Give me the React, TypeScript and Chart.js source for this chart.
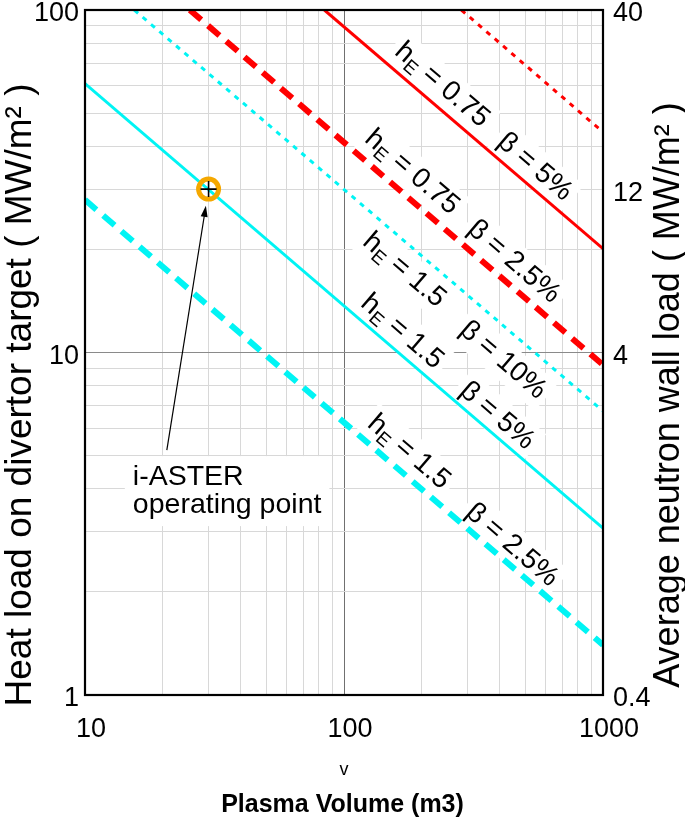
import React, { useEffect, useRef } from 'react';
import { Chart, registerables } from 'chart.js';

Chart.register(...registerables);

// ---- tick labels ----
const xTickLabels = [10, 100, 1000];
const yTickLabels = [1, 10, 100];
const rightTickLabels = [0.4, 4, 12, 40];

// ---- series (plasma volume m3 -> heat load MW/m2) ----
const redSolidX = [84, 1000];
const redSolidY = [100, 20.1];
const redDashedX = [25.4, 1000];
const redDashedY = [100, 9.2];
const redDottedX = [284, 1000];
const redDottedY = [100, 44];
const cyanDottedX = [15.5, 1000];
const cyanDottedY = [100, 6.75];
const cyanSolidX = [10, 1000];
const cyanSolidY = [61, 3.07];
const cyanDashedX = [10, 1000];
const cyanDashedY = [27.9, 1.4];

const opPointX = [30];
const opPointY = [30];

// ---- line labels ----
const lineLabelTexts = [
  'h_E = 0.75', 'β = 5%',
  'h_E = 0.75', 'β = 2.5%',
  'h_E = 1.5', 'β = 10%',
  'h_E = 1.5', 'β = 5%',
  'h_E = 1.5', 'β = 2.5%',
];
const lineLabelX = [239, 546, 183, 453, 170.6, 411, 167.5, 390, 178, 445];
const lineLabelY = [60.4, 34.8, 33.6, 18.4, 17.4, 9.5, 11.5, 6.53, 5.12, 2.74];
const lineLabelSeries = [0, 0, 1, 1, 2, 2, 3, 3, 4, 4];

// ---- operating point note ----
const noteLines = ['i-ASTER', 'operating point'];
const noteX = [15.3];
const noteY = [4.1];
const arrowTailX = [20.7];
const arrowTailY = [5.19];

const FONT = "'Liberation Sans', Arial, sans-serif";
const RED = '#ff0000';
const CYAN = '#00f4f4';

const seriesForLabels = [
  { x: redSolidX, y: redSolidY },
  { x: redDashedX, y: redDashedY },
  { x: cyanDottedX, y: cyanDottedY },
  { x: cyanSolidX, y: cyanSolidY },
  { x: cyanDashedX, y: cyanDashedY },
];

function pts(xs: number[], ys: number[]) {
  return xs.map((v, i) => ({ x: v, y: ys[i] }));
}

function decadeGrid(min: number, max: number) {
  const out: number[] = [];
  for (let d = min; d < max; d *= 10) {
    for (let k = 1; k < 10; k++) out.push(d * k);
  }
  out.push(max);
  return out;
}

function parseRich(t: string) {
  const segs: { t: string; sub: boolean }[] = [];
  const idx = t.indexOf('_');
  if (idx >= 0) {
    segs.push({ t: t.slice(0, idx), sub: false });
    segs.push({ t: t.slice(idx + 1, idx + 2), sub: true });
    segs.push({ t: t.slice(idx + 2), sub: false });
  } else segs.push({ t, sub: false });
  return segs;
}

const LABEL_SIZE = 28;
const SUB_SIZE = 19;
const NOTE_SIZE = 28.5;
const TITLE_SIZE = 37;

const annotationPlugin = {
  id: 'annot',
  beforeDatasetsDraw(chart: any) {
    const { ctx, chartArea, scales } = chart;
    const xs = scales.x;
    const ys = scales.y;
    ctx.save();
    ctx.beginPath();
    ctx.rect(chartArea.left, chartArea.top, chartArea.right - chartArea.left, chartArea.bottom - chartArea.top);
    ctx.clip();
    for (let i = 0; i < lineLabelTexts.length; i++) {
      const s = seriesForLabels[lineLabelSeries[i]];
      const x0 = xs.getPixelForValue(s.x[0]);
      const y0 = ys.getPixelForValue(s.y[0]);
      const x1 = xs.getPixelForValue(s.x[1]);
      const y1 = ys.getPixelForValue(s.y[1]);
      const ang = Math.atan2(y1 - y0, x1 - x0);
      const cx = xs.getPixelForValue(lineLabelX[i]);
      const cy = ys.getPixelForValue(lineLabelY[i]);
      const segs = parseRich(lineLabelTexts[i]);
      let w = 0;
      const widths = segs.map((sg) => {
        ctx.font = `${sg.sub ? SUB_SIZE : LABEL_SIZE}px ${FONT}`;
        const m = ctx.measureText(sg.t).width;
        w += m;
        return m;
      });
      ctx.save();
      ctx.translate(cx, cy);
      ctx.rotate(ang);
      ctx.fillStyle = '#ffffff';
      ctx.fillRect(-w / 2 - 5, -18, w + 10, 36);
      ctx.fillStyle = '#000000';
      ctx.textBaseline = 'middle';
      ctx.textAlign = 'left';
      let px = -w / 2;
      segs.forEach((sg, k) => {
        ctx.font = `${sg.sub ? SUB_SIZE : LABEL_SIZE}px ${FONT}`;
        ctx.fillText(sg.t, px, sg.sub ? 8 : 0);
        px += widths[k];
      });
      ctx.restore();
    }
    // note box
    const nx = xs.getPixelForValue(noteX[0]);
    const ny = ys.getPixelForValue(noteY[0]);
    ctx.font = `${NOTE_SIZE}px ${FONT}`;
    const nw = Math.max(...noteLines.map((l) => ctx.measureText(l).width));
    ctx.fillStyle = '#ffffff';
    ctx.fillRect(nx - 8, ny - 29, nw + 16, 70);
    ctx.fillStyle = '#000000';
    ctx.textBaseline = 'alphabetic';
    ctx.textAlign = 'left';
    noteLines.forEach((l, k) => ctx.fillText(l, nx, ny + k * 28));
    ctx.restore();
  },
  afterDatasetsDraw(chart: any) {
    const { ctx, chartArea, scales } = chart;
    const xs = scales.x;
    const ys = scales.y;
    ctx.save();
    // arrow
    const tx = xs.getPixelForValue(arrowTailX[0]);
    const ty = ys.getPixelForValue(arrowTailY[0]);
    const px = xs.getPixelForValue(opPointX[0]);
    const py = ys.getPixelForValue(opPointY[0]);
    const dx = px - tx;
    const dy = py - ty;
    const len = Math.hypot(dx, dy);
    const ux = dx / len;
    const uy = dy / len;
    const hx = px - ux * 17;
    const hy = py - uy * 17;
    ctx.strokeStyle = '#000';
    ctx.lineWidth = 1.2;
    ctx.beginPath();
    ctx.moveTo(tx, ty);
    ctx.lineTo(hx - ux * 8, hy - uy * 8);
    ctx.stroke();
    ctx.fillStyle = '#000';
    ctx.beginPath();
    ctx.moveTo(hx, hy);
    ctx.lineTo(hx - ux * 11 - uy * 3.5, hy - uy * 11 + ux * 3.5);
    ctx.lineTo(hx - ux * 11 + uy * 3.5, hy - uy * 11 - ux * 3.5);
    ctx.closePath();
    ctx.fill();
    // frame
    ctx.strokeStyle = '#000';
    ctx.lineWidth = 2.2;
    ctx.strokeRect(chartArea.left, chartArea.top, chartArea.right - chartArea.left, chartArea.bottom - chartArea.top);
    ctx.restore();
  },
  afterDraw(chart: any) {
    const { ctx, chartArea } = chart;
    const cy = chartArea.top + (chartArea.bottom - chartArea.top) * 0.562;
    ctx.save();
    ctx.fillStyle = '#000';
    ctx.font = `${TITLE_SIZE}px ${FONT}`;
    ctx.textAlign = 'center';
    ctx.textBaseline = 'middle';
    ctx.translate(chartArea.left - 64, cy);
    ctx.rotate(-Math.PI / 2);
    ctx.fillText('Heat load on divertor target ( MW/m² )', 0, 0);
    ctx.restore();
    ctx.save();
    ctx.fillStyle = '#000';
    ctx.font = `${TITLE_SIZE - 1}px ${FONT}`;
    ctx.textAlign = 'center';
    ctx.textBaseline = 'middle';
    ctx.translate(chartArea.right + 66, cy);
    ctx.rotate(-Math.PI / 2);
    ctx.fillText('Average neutron wall load ( MW/m² )', 0, 0);
    ctx.restore();
  },
};

export default function App() {
  const ref = useRef<HTMLCanvasElement | null>(null);
  useEffect(() => {
    if (!ref.current) return;
    const lineDs = (label: string, xs: number[], ys: number[], color: string, width: number, dash: number[]) => ({
      label,
      data: pts(xs, ys),
      borderColor: color,
      backgroundColor: color,
      borderWidth: width,
      borderDash: dash,
      pointRadius: 0,
      showLine: true,
      fill: false,
      tension: 0,
    });
    const chart = new Chart(ref.current, {
      type: 'scatter',
      data: {
        datasets: [
          {
            label: 'cross',
            data: pts(opPointX, opPointY),
            pointStyle: 'cross',
            pointRadius: 8,
            borderColor: '#000',
            borderWidth: 1.6,
            backgroundColor: '#000',
          } as any,
          {
            label: 'op',
            data: pts(opPointX, opPointY),
            pointStyle: 'circle',
            pointRadius: 10,
            borderColor: '#f5a800',
            borderWidth: 5,
            backgroundColor: 'rgba(0,0,0,0)',
          } as any,
          lineDs('r1', redSolidX, redSolidY, RED, 3, []),
          lineDs('r2', redDashedX, redDashedY, RED, 6, [15, 9]),
          lineDs('r3', redDottedX, redDottedY, RED, 3, [5, 6]),
          lineDs('c1', cyanDottedX, cyanDottedY, CYAN, 3, [5, 6]),
          lineDs('c2', cyanSolidX, cyanSolidY, CYAN, 3, []),
          lineDs('c3', cyanDashedX, cyanDashedY, CYAN, 6, [15, 9]),
        ],
      },
      options: {
        animation: false,
        responsive: false,
        layout: { autoPadding: false, padding: { top: 10, left: 0, right: 0, bottom: 0 } },
        plugins: {
          legend: { display: false },
          tooltip: { enabled: false },
          title: {
            display: true,
            position: 'bottom',
            text: 'Plasma Volume (m3)',
            color: '#000',
            font: { family: FONT, size: 25, weight: 'bold' },
            padding: { top: 0, bottom: 2 },
          },
        },
        scales: {
          x: {
            type: 'logarithmic',
            min: 10,
            max: 1000,
            position: 'bottom',
            afterBuildTicks: (s: any) => {
              s.ticks = decadeGrid(10, 1000).map((v) => ({ value: v }));
            },
            afterFit: (s: any) => {
              s.height = 95;
              s.paddingLeft = 0;
              s.paddingRight = 0;
            },
            ticks: {
              autoSkip: false,
              maxRotation: 0,
              padding: 18,
              labelOffset: 6,
              color: '#000',
              font: { family: FONT, size: 27 },
              callback: (v: any) => (xTickLabels.includes(Number(v)) ? String(v) : ''),
            },
            grid: {
              drawTicks: false,
              color: (c: any) => (c.tick && c.tick.value === 100 ? '#707070' : '#d8d8d8'),
              lineWidth: 1,
            },
            border: { display: false },
            title: {
              display: true,
              text: 'v',
              color: '#000',
              font: { family: FONT, size: 18 },
              padding: { top: 0, bottom: 9 },
            },
          },
          y: {
            type: 'logarithmic',
            min: 1,
            max: 100,
            position: 'left',
            afterBuildTicks: (s: any) => {
              s.ticks = decadeGrid(1, 100).map((v) => ({ value: v }));
            },
            afterFit: (s: any) => {
              s.width = 85;
              s.paddingTop = 0;
              s.paddingBottom = 0;
            },
            ticks: {
              autoSkip: false,
              padding: 6,
              labelOffset: 4,
              color: '#000',
              font: { family: FONT, size: 27 },
              callback: (v: any) => (yTickLabels.includes(Number(v)) ? String(v) : ''),
            },
            grid: {
              drawTicks: false,
              color: (c: any) => (c.tick && c.tick.value === 10 ? '#8a8a8a' : '#d8d8d8'),
              lineWidth: 1,
            },
            border: { display: false },
          },
          y2: {
            type: 'logarithmic',
            min: 0.4,
            max: 40,
            position: 'right',
            afterBuildTicks: (s: any) => {
              s.ticks = rightTickLabels.map((v) => ({ value: v }));
            },
            afterFit: (s: any) => {
              s.width = 82;
              s.paddingTop = 0;
              s.paddingBottom = 0;
            },
            ticks: {
              autoSkip: false,
              padding: 10,
              labelOffset: 4,
              color: '#000',
              font: { family: FONT, size: 27 },
              callback: (v: any) => String(v),
            },
            grid: { display: false, drawTicks: false },
            border: { display: false },
          },
        },
      } as any,
      plugins: [annotationPlugin],
    });
    return () => chart.destroy();
  }, []);
  return (
    <div style={{ position: 'absolute', left: 0, top: 0, width: 685, height: 822, background: '#fff' }}>
      <canvas ref={ref} width={685} height={822} style={{ display: 'block' }} />
    </div>
  );
}
